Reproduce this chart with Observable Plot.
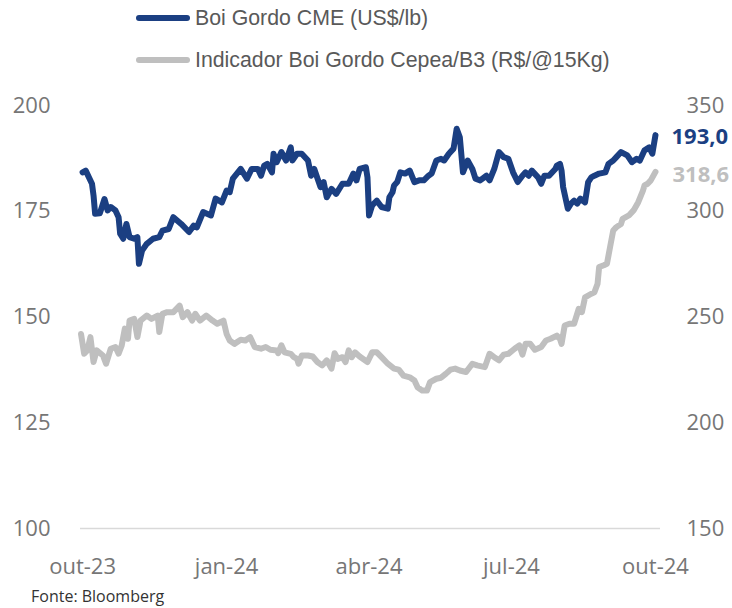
<!DOCTYPE html>
<html><head><meta charset="utf-8">
<script src="https://cdn.jsdelivr.net/npm/d3@7"></script>
<script src="https://cdn.jsdelivr.net/npm/@observablehq/plot@0.6"></script>
<style>
body{margin:0;background:#fff}
#wrap{position:relative;width:732px;height:608px;overflow:hidden;background:#fff}
.leg{position:absolute;font-family:"Liberation Sans",Arial,sans-serif;font-size:21.3px;color:#595959;height:26px;line-height:26px;white-space:nowrap}
.sw{position:absolute;width:54px;height:6px;border-radius:3px}
#chart{position:absolute;left:0;top:80px}
#cap{position:absolute;left:31px;top:586px;font-family:"Open Sans",sans-serif;font-size:16px;color:#333;line-height:20px;white-space:nowrap}
</style></head>
<body><div id="wrap">
<div class="sw" style="left:136px;top:15px;background:#1b3f82"></div>
<div class="leg" style="left:195px;top:5px">Boi Gordo CME (US$/lb)</div>
<div class="sw" style="left:136px;top:57px;background:#bfbfbf"></div>
<div class="leg" style="left:195px;top:47px">Indicador Boi Gordo Cepea/B3 (R$/@15Kg)</div>
<div id="chart"></div>
<div id="cap">Fonte: Bloomberg</div>
</div>
<script>
const cmeDates = ["2023-10-01","2023-10-03","2023-10-07","2023-10-08","2023-10-09","2023-10-12","2023-10-15","2023-10-17","2023-10-19","2023-10-22","2023-10-24","2023-10-25","2023-10-27","2023-10-29","2023-10-31",
"2023-11-03","2023-11-05","2023-11-06","2023-11-08","2023-11-11","2023-11-15","2023-11-19","2023-11-21","2023-11-25","2023-11-28",
"2023-12-03","2023-12-08","2023-12-11","2023-12-13","2023-12-17","2023-12-22","2023-12-25","2023-12-29",
"2024-01-01","2024-01-03","2024-01-05","2024-01-10","2024-01-14","2024-01-17","2024-01-21","2024-01-23","2024-01-25","2024-01-27","2024-01-30","2024-01-31",
"2024-02-02","2024-02-05","2024-02-08","2024-02-11","2024-02-12","2024-02-15","2024-02-18","2024-02-22","2024-02-24","2024-02-26",
"2024-03-01","2024-03-03","2024-03-05","2024-03-08","2024-03-11","2024-03-15","2024-03-19","2024-03-22","2024-03-24","2024-03-26","2024-03-30","2024-03-31",
"2024-04-01","2024-04-03","2024-04-06","2024-04-09","2024-04-13","2024-04-14","2024-04-16","2024-04-17","2024-04-19","2024-04-21","2024-04-24","2024-04-27","2024-04-30",
"2024-05-03","2024-05-06","2024-05-09","2024-05-11","2024-05-14","2024-05-17","2024-05-19","2024-05-22","2024-05-25","2024-05-27","2024-05-29","2024-05-31",
"2024-06-03","2024-06-06","2024-06-08","2024-06-11","2024-06-15","2024-06-17","2024-06-20","2024-06-23","2024-06-26","2024-06-29",
"2024-07-02","2024-07-05","2024-07-08","2024-07-10","2024-07-12","2024-07-14","2024-07-18","2024-07-20","2024-07-22","2024-07-25","2024-07-29","2024-07-30",
"2024-08-01","2024-08-02","2024-08-03","2024-08-06","2024-08-08","2024-08-10","2024-08-12","2024-08-14","2024-08-17","2024-08-19","2024-08-21","2024-08-23","2024-08-26","2024-08-30",
"2024-09-01","2024-09-04","2024-09-06","2024-09-09","2024-09-13","2024-09-16","2024-09-19","2024-09-21","2024-09-24","2024-09-27","2024-09-29","2024-10-01"];
const cmeValues = [184.2,184.6,181.5,178.7,174.4,174.5,177.9,175.2,176.0,175.2,173.6,169.7,168.5,172.0,168.9,
168.5,168.9,162.6,165.7,167.3,168.5,168.9,170.4,170.8,173.6,
172.0,170.1,171.6,171.2,174.8,174.0,178.0,177.1,
179.9,179.5,182.7,185.0,182.7,185.0,185.0,183.4,185.8,186.2,184.2,188.6,
186.6,189.0,187.0,190.1,187.0,188.6,188.6,187.0,183.4,185.0,
180.7,181.9,178.3,180.3,179.1,181.5,181.5,183.9,182.3,185.0,185.4,183.0,
174.0,176.4,177.5,176.0,175.6,178.3,179.5,181.1,181.9,184.2,183.9,184.6,181.9,
182.3,182.3,183.4,183.9,187.0,187.4,187.0,188.6,189.8,194.5,192.5,184.2,
187.0,185.0,182.7,182.3,183.4,182.3,185.0,189.0,187.8,187.4,
184.2,181.9,183.4,184.2,183.4,184.6,183.0,181.5,183.4,183.4,185.0,185.8,
186.2,184.6,180.7,175.6,176.8,177.5,176.8,178.0,177.1,181.9,183.0,183.4,183.9,184.2,
186.2,187.0,187.8,189.0,188.2,186.6,187.4,187.0,189.4,190.1,188.6,193.0];

const cepeaDates = ["2023-09-30","2023-10-02","2023-10-04","2023-10-06","2023-10-08","2023-10-10","2023-10-14","2023-10-16","2023-10-19","2023-10-22","2023-10-24","2023-10-26","2023-10-28","2023-10-30","2023-10-31",
"2023-11-03","2023-11-05","2023-11-07","2023-11-11","2023-11-14","2023-11-18","2023-11-19","2023-11-21","2023-11-24","2023-11-28",
"2023-12-02","2023-12-04","2023-12-07","2023-12-10","2023-12-12","2023-12-15","2023-12-19","2023-12-23","2023-12-26","2023-12-30",
"2024-01-01","2024-01-03","2024-01-06","2024-01-10","2024-01-13","2024-01-16","2024-01-19","2024-01-23","2024-01-26","2024-01-29",
"2024-02-02","2024-02-03","2024-02-05","2024-02-07","2024-02-11","2024-02-13","2024-02-15","2024-02-16","2024-02-18","2024-02-22","2024-02-25","2024-02-28",
"2024-03-02","2024-03-05","2024-03-08","2024-03-10","2024-03-12","2024-03-15","2024-03-17","2024-03-19","2024-03-21","2024-03-23","2024-03-26","2024-03-31",
"2024-04-03","2024-04-06","2024-04-09","2024-04-13","2024-04-17","2024-04-20","2024-04-23","2024-04-27","2024-04-30",
"2024-05-02","2024-05-05","2024-05-08","2024-05-10","2024-05-14","2024-05-17","2024-05-20","2024-05-23","2024-05-26","2024-05-29",
"2024-06-02","2024-06-06","2024-06-09","2024-06-14","2024-06-17","2024-06-20","2024-06-23","2024-06-26","2024-06-29",
"2024-07-03","2024-07-06","2024-07-08","2024-07-10","2024-07-13","2024-07-16","2024-07-20","2024-07-23","2024-07-26","2024-07-30",
"2024-08-01","2024-08-02","2024-08-04","2024-08-07","2024-08-10","2024-08-13","2024-08-15","2024-08-17","2024-08-21","2024-08-23","2024-08-25","2024-08-26","2024-08-29","2024-08-31",
"2024-09-02","2024-09-04","2024-09-06","2024-09-09","2024-09-10","2024-09-14","2024-09-17","2024-09-20","2024-09-23","2024-09-24","2024-09-26","2024-09-28","2024-10-01"];
const cepeaValues = [242.0,232.6,234.2,240.5,228.7,234.2,231.8,227.9,235.0,235.8,232.7,236.6,244.5,239.7,248.3,
249.1,240.5,248.3,250.7,249.1,250.7,242.9,251.5,252.3,252.3,
255.4,249.9,252.3,248.3,251.5,248.3,250.7,248.3,246.8,248.3,
242.0,238.9,237.3,239.2,238.9,240.5,235.8,235.0,235.8,234.5,
234.2,232.9,236.6,233.3,232.6,231.0,230.2,227.9,231.8,231.8,231.3,228.7,
227.1,229.5,225.6,232.9,230.2,231.0,228.7,234.2,231.0,233.3,231.3,228.7,
233.3,233.3,231.0,227.9,225.6,225.1,222.3,221.5,220.0,
216.8,215.2,215.2,219.2,220.8,221.3,223.1,225.1,225.6,224.7,
224.0,227.9,227.1,226.3,232.6,231.0,229.5,232.2,232.6,
235.0,236.6,232.2,237.3,237.3,234.5,235.8,238.9,239.7,241.2,
239.7,237.3,246.0,246.8,246.8,253.9,252.3,259.3,261.0,261.7,265.7,273.6,274.5,275.2,
283.1,290.9,292.5,294.0,296.4,298.0,300.4,304.3,309.8,312.2,313.0,314.6,318.6];

const xTickDates = ["2023-10-01","2024-01-01","2024-04-01","2024-07-01","2024-10-01"];
const monthNames = ["jan","fev","mar","abr","mai","jun","jul","ago","set","out","nov","dez"];
const leftTicks = [100,125,150,175,200];
const rightTicks = [150,200,250,300,350];

// right axis (R$/@) mapped onto left scale: 150..350 -> 100..200
const toLeft = v => 100 + (v - 150) / 2;
const cme = cmeDates.map((d, i) => ({date: new Date(d), value: cmeValues[i]}));
const cepea = cepeaDates.map((d, i) => ({date: new Date(d), value: toLeft(cepeaValues[i]), raw: cepeaValues[i]}));
const fmtDate = d => monthNames[d.getUTCMonth()] + "-" + String(d.getUTCFullYear()).slice(2);
const fmtNum = v => v.toFixed(1).replace(".", ",");

const chart = Plot.plot({
  width: 732, height: 510,
  marginLeft: 80, marginRight: 72, marginTop: 25, marginBottom: 62,
  style: {fontFamily: "'Open Sans', sans-serif", fontSize: "22px", color: "#767676", background: "transparent", overflow: "visible"},
  x: {type: "utc", domain: [new Date("2023-09-29T16:00:00Z"), new Date("2024-10-04T05:00:00Z")]},
  y: {domain: [100, 200]},
  marks: [
    Plot.ruleY([100], {stroke: "#d9d9d9", strokeWidth: 1.5}),
    Plot.axisX({ticks: xTickDates.map(d => new Date(d)), tickFormat: fmtDate, tickSize: 0, tickPadding: 30, label: null, fontSize: 22}),
    Plot.axisY({anchor: "left", ticks: leftTicks, tickSize: 0, tickPadding: 30, label: null, fontSize: 22}),
    Plot.axisY({anchor: "right", ticks: rightTicks.map(toLeft), tickFormat: v => String(rightTicks[leftTicks.indexOf(v)]), tickSize: 0, tickPadding: 26, label: null, fontSize: 22}),
    Plot.line(cepea, {x: "date", y: "value", stroke: "#bfbfbf", strokeWidth: 6, strokeLinejoin: "round", strokeLinecap: "round"}),
    Plot.line(cme, {x: "date", y: "value", stroke: "#1b3f82", strokeWidth: 6, strokeLinejoin: "round", strokeLinecap: "round"}),
    Plot.text([cme[cme.length - 1]], {x: "date", y: "value", text: d => fmtNum(d.value), dx: 16, dy: 2, textAnchor: "start", fill: "#1b3f82", fontWeight: "bold", fontSize: 22}),
    Plot.text([cepea[cepea.length - 1]], {x: "date", y: "value", text: d => fmtNum(d.raw), dx: 17, dy: 3, textAnchor: "start", fill: "#bfbfbf", fontWeight: "bold", fontSize: 22})
  ]
});
document.getElementById("chart").appendChild(chart);
</script>
</body></html>
